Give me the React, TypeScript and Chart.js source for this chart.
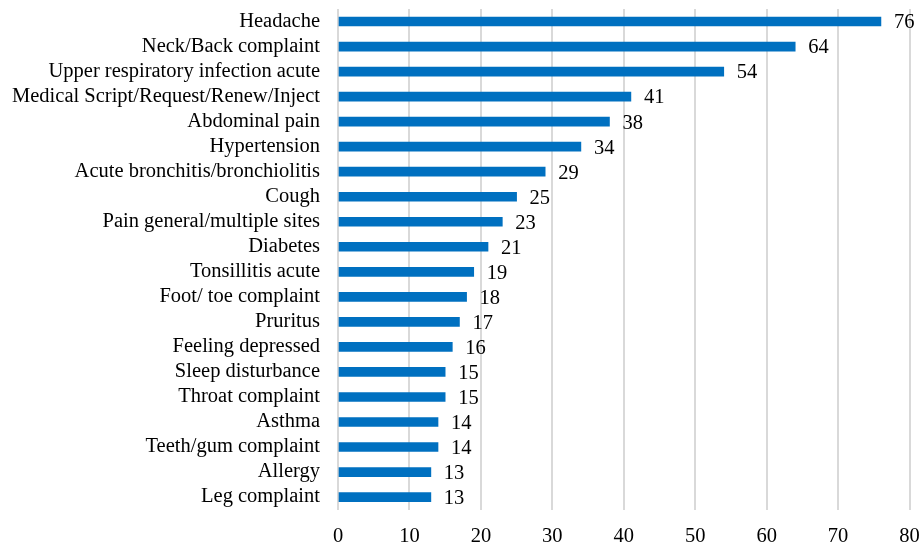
import React, { useEffect, useRef } from "react";
import { Chart, registerables } from "chart.js";

Chart.register(...registerables);

const categories = [
  "Headache",
  "Neck/Back complaint",
  "Upper respiratory infection acute",
  "Medical Script/Request/Renew/Inject",
  "Abdominal pain",
  "Hypertension",
  "Acute bronchitis/bronchiolitis",
  "Cough",
  "Pain general/multiple sites",
  "Diabetes",
  "Tonsillitis acute",
  "Foot/ toe complaint",
  "Pruritus",
  "Feeling depressed",
  "Sleep disturbance",
  "Throat complaint",
  "Asthma",
  "Teeth/gum complaint",
  "Allergy",
  "Leg complaint",
];

const counts = [76, 64, 54, 41, 38, 34, 29, 25, 23, 21, 19, 18, 17, 16, 15, 15, 14, 14, 13, 13];

const xTicks = [0, 10, 20, 30, 40, 50, 60, 70, 80];

const FONT = "'Liberation Serif', serif";
const FONT_SIZE = 20.5;

const valueLabels = {
  id: "valueLabels",
  afterDatasetsDraw(chart: any) {
    const ctx = chart.ctx;
    const meta = chart.getDatasetMeta(0);
    ctx.save();
    ctx.font = `${FONT_SIZE}px ${FONT}`;
    ctx.fillStyle = "#000";
    ctx.textAlign = "left";
    ctx.textBaseline = "middle";
    meta.data.forEach((bar: any, i: number) => {
      ctx.fillText(String(chart.data.datasets[0].data[i]), bar.x + 13, bar.y + 1.5);
    });
    ctx.restore();
  },
};

export default function App() {
  const ref = useRef<HTMLCanvasElement | null>(null);
  useEffect(() => {
    document.body.style.margin = "0";
    if (!ref.current) return;
    const chart = new Chart(ref.current, {
      type: "bar",
      data: {
        labels: categories,
        datasets: [
          {
            data: counts,
            backgroundColor: "#0070C0",
            barThickness: 9,
          },
        ],
      },
      options: {
        indexAxis: "y",
        animation: false,
        responsive: false,
        plugins: { legend: { display: false }, tooltip: { enabled: false } },
        layout: { padding: { top: 9, right: 12.5, left: 0, bottom: 0 } },
        scales: {
          x: {
            min: 0,
            max: 80,
            afterBuildTicks: (scale: any) => {
              scale.ticks = xTicks.map((v) => ({ value: v }));
            },
            afterFit: (scale: any) => {
              scale.height = 35.4;
              scale.paddingLeft = 0;
              scale.paddingRight = 0;
              scale.paddingTop = 0;
              scale.paddingBottom = 0;
            },
            grid: { color: "#d9d9d9", lineWidth: 2, drawTicks: false },
            border: { display: false },
            ticks: { padding: 15, color: "#000", font: { family: FONT, size: FONT_SIZE } },
          },
          y: {
            afterFit: (scale: any) => {
              scale.width = 338;
              scale.paddingLeft = 0;
              scale.paddingRight = 0;
              scale.paddingTop = 0;
              scale.paddingBottom = 0;
            },
            grid: { display: false, drawTicks: false },
            border: { display: false },
            ticks: { padding: 18, color: "#000", font: { family: FONT, size: FONT_SIZE }, autoSkip: false },
          },
        },
      },
      plugins: [valueLabels],
    });
    return () => chart.destroy();
  }, []);
  return <canvas ref={ref} width={922} height={545} style={{ display: "block" }} />;
}
